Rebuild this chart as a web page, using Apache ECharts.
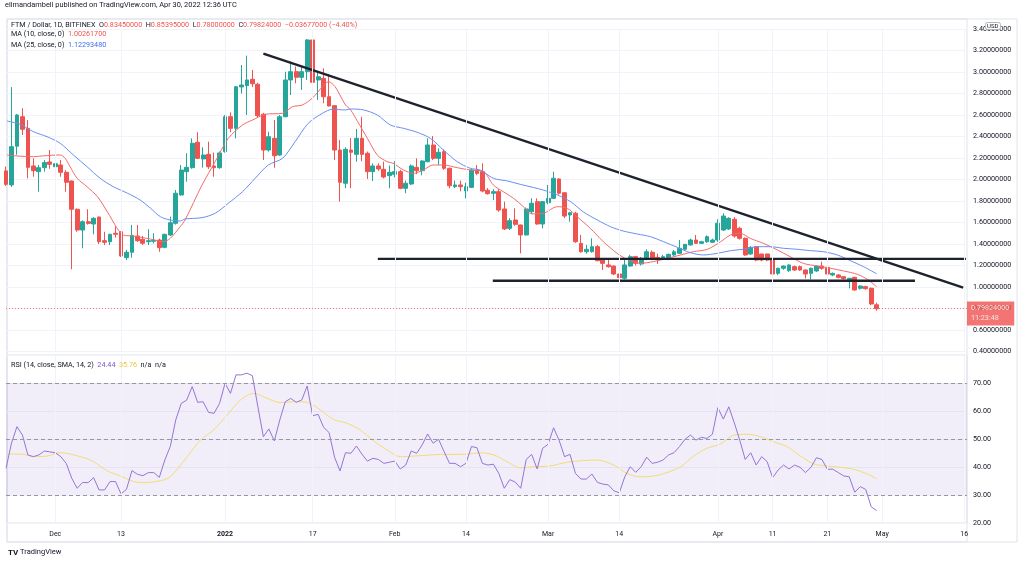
<!DOCTYPE html>
<html><head><meta charset="utf-8">
<script src="https://cdn.jsdelivr.net/npm/echarts@6/dist/echarts.min.js"></script>
<style>html,body{margin:0;padding:0;background:#fff}#c{width:1024px;height:565px}</style>
</head><body><div id="c"></div>
<script>
// day index: 0 = 2021-12-01
const firstDay = -9; // 2021-11-22
// daily candles [open, high, low, close]
const ohlc = [
[2.08,2.12,1.94,1.955],[1.95,2.86,1.93,2.305],[2.31,2.61,2.23,2.60],[2.584,2.662,2.414,2.467],[2.476,2.553,2.011,2.113],
[2.126,2.197,2.026,2.082],[2.073,2.135,1.887,2.110],[2.110,2.181,2.073,2.157],[2.163,2.274,2.10,2.141],[2.119,2.274,2.088,2.147],
[2.135,2.181,2.026,2.067],[2.067,2.088,1.887,1.974],[1.986,1.99,1.165,1.723],[1.723,1.73,1.514,1.530],[1.530,1.62,1.360,1.607],
[1.607,1.723,1.58,1.592],[1.586,1.65,1.49,1.639],[1.651,1.655,1.40,1.421],[1.431,1.514,1.39,1.416],[1.421,1.495,1.39,1.490],
[1.50,1.561,1.46,1.49],[1.514,1.52,1.28,1.288],[1.273,1.345,1.251,1.323],[1.323,1.577,1.273,1.481],[1.474,1.577,1.42,1.431],
[1.444,1.475,1.39,1.407],[1.421,1.537,1.39,1.431],[1.425,1.50,1.405,1.435],[1.437,1.45,1.328,1.366],[1.369,1.495,1.36,1.490],
[1.484,1.654,1.475,1.598],[1.593,1.902,1.58,1.872],[1.856,2.135,1.85,2.088],[2.073,2.244,1.98,2.113],[2.110,2.383,2.10,2.337],
[2.346,2.439,2.19,2.197],[2.191,2.30,2.11,2.228],[2.234,2.352,2.098,2.119],[2.126,2.25,2.026,2.110],[2.110,2.26,2.10,2.247],
[2.259,2.60,2.25,2.584],[2.584,2.625,2.44,2.476],[2.476,2.87,2.383,2.863],[2.861,3.065,2.80,2.879],[2.873,3.152,2.60,2.926],
[2.932,3.019,2.86,2.891],[2.886,2.90,2.58,2.594],[2.607,2.62,2.181,2.274],[2.274,2.445,2.26,2.398],[2.383,2.553,2.11,2.221],
[2.228,2.60,2.22,2.584],[2.584,3.003,2.58,2.926],[2.926,3.096,2.786,3.003],[3.003,3.05,2.895,2.951],[2.951,3.05,2.833,3.003],
[3.003,3.307,2.926,3.298],[3.298,3.375,2.879,2.904],[2.926,3.003,2.74,2.956],[2.941,3.034,2.709,2.770],[2.770,2.98,2.68,2.684],
[2.687,2.69,2.181,2.274],[2.274,2.367,1.794,1.974],[1.965,2.30,1.918,2.281],[2.274,2.386,1.92,2.253],[2.234,2.47,2.166,2.383],
[2.383,2.584,2.17,2.234],[2.244,2.26,2.005,2.073],[2.073,2.15,1.986,2.126],[2.126,2.15,2.08,2.098],[2.095,2.166,2.01,2.023],
[2.036,2.13,1.918,2.067],[2.048,2.17,2.02,2.073],[2.073,2.09,1.91,1.918],[1.918,1.99,1.872,1.965],[1.958,2.14,1.95,2.126],
[2.113,2.197,2.05,2.082],[2.082,2.18,2.04,2.172],[2.166,2.383,2.16,2.321],[2.321,2.405,2.18,2.197],[2.197,2.29,2.135,2.253],
[2.259,2.28,2.09,2.104],[2.104,2.11,1.918,1.942],[1.933,1.99,1.92,1.949],[1.949,1.99,1.89,1.933],[1.893,1.97,1.825,1.933],
[1.927,2.10,1.92,2.088],[2.088,2.135,2.04,2.057],[2.073,2.151,1.88,1.893],[1.90,1.92,1.86,1.868],[1.872,1.91,1.809,1.887],
[1.887,1.91,1.70,1.716],[1.726,1.794,1.53,1.540],[1.546,1.64,1.53,1.617],[1.623,1.732,1.57,1.583],[1.577,1.58,1.313,1.484],
[1.484,1.74,1.48,1.726],[1.70,1.825,1.68,1.779],[1.794,1.825,1.58,1.586],[1.586,1.80,1.546,1.794],[1.784,1.949,1.77,1.825],
[1.825,2.073,1.82,2.011],[2.005,2.01,1.86,1.872],[1.877,1.88,1.64,1.660],[1.670,1.70,1.607,1.691],[1.686,1.70,1.41,1.421],
[1.406,1.484,1.32,1.328],[1.328,1.39,1.31,1.351],[1.328,1.453,1.32,1.375],[1.375,1.39,1.24,1.245],[1.251,1.27,1.158,1.220],
[1.205,1.27,1.18,1.189],[1.195,1.20,1.11,1.121],[1.121,1.175,1.059,1.087],[1.081,1.26,1.07,1.205],[1.195,1.30,1.19,1.282],
[1.282,1.29,1.20,1.220],[1.214,1.28,1.20,1.267],[1.258,1.351,1.25,1.328],[1.323,1.34,1.25,1.258],[1.276,1.31,1.214,1.26],
[1.26,1.30,1.25,1.282],[1.267,1.31,1.25,1.304],[1.298,1.345,1.29,1.328],[1.313,1.437,1.31,1.36],[1.351,1.40,1.34,1.397],
[1.391,1.45,1.385,1.437],[1.437,1.484,1.40,1.406],[1.406,1.43,1.40,1.421],[1.421,1.48,1.41,1.468],[1.416,1.45,1.41,1.437],
[1.437,1.63,1.42,1.593],[1.53,1.686,1.52,1.66],[1.54,1.65,1.53,1.639],[1.63,1.65,1.46,1.474],[1.546,1.56,1.44,1.453],
[1.453,1.46,1.29,1.298],[1.307,1.38,1.30,1.369],[1.375,1.38,1.24,1.251],[1.307,1.31,1.24,1.251],[1.307,1.31,1.24,1.251],
[1.258,1.26,1.11,1.121],[1.127,1.18,1.11,1.174],[1.174,1.20,1.16,1.195],[1.152,1.21,1.14,1.205],[1.189,1.20,1.15,1.158],
[1.189,1.20,1.15,1.158],[1.158,1.165,1.08,1.121],[1.127,1.18,1.071,1.174],[1.149,1.20,1.14,1.195],[1.195,1.236,1.16,1.174],
[1.183,1.22,1.11,1.121],[1.112,1.135,1.10,1.127],[1.112,1.12,1.08,1.09],[1.096,1.10,1.07,1.077],[1.059,1.085,0.988,1.081],
[1.09,1.095,0.965,0.972],[0.988,1.015,0.975,1.009],[1.003,1.01,0.975,0.984],[0.988,0.995,0.83,0.842],[0.8345,0.85395,0.78,0.79824]
];
// MA lines: [day, value]
const ma10 = [[-8.8,2.228],[-7,2.219],[-4,2.212],[-2.2,2.22],[0.9,2.228],[1.8,2.197],[2.7,2.119],[4,2.011],[5.8,1.933],[7.7,1.84],[9.5,1.70],[11.3,1.546],[12.4,1.484],[14.2,1.474],[17.4,1.446],[19.7,1.421],[21,1.453],[22.8,1.561],[23.7,1.623],[26.8,1.949],[29.2,2.166],[31.6,2.383],[34.2,2.507],[36,2.553],[38.4,2.607],[41.5,2.616],[43.3,2.677],[45.1,2.693],[46.9,2.755],[48.8,2.863],[49.9,2.91],[51.1,2.863],[53,2.693],[53.9,2.65],[55.2,2.54],[57,2.383],[58.8,2.228],[60.6,2.166],[61.7,2.151],[63.6,2.088],[65.4,2.058],[67.2,2.088],[69,2.135],[70.9,2.135],[73.4,2.11],[75.8,2.088],[78.2,2.073],[80,1.949],[81.8,1.887],[83.7,1.825],[85.5,1.747],[87,1.68],[89.1,1.686],[91.7,1.747],[93.5,1.732],[95.3,1.654],[97.7,1.546],[100.1,1.421],[102.6,1.313],[104.4,1.258],[106.8,1.22],[109.2,1.236],[111.8,1.267],[114.2,1.298],[116.5,1.328],[119.1,1.351],[121.5,1.421],[123.3,1.484],[125.1,1.5],[126.9,1.453],[129.3,1.406],[131.9,1.344],[134.2,1.282],[136.6,1.22],[139.2,1.195],[141.6,1.174],[144,1.149],[146.5,1.118],[148.3,1.071],[150,1.0026]];
const ma25 = [[-8.8,2.544],[-6.4,2.513],[-4,2.445],[-1.5,2.398],[0.9,2.337],[3.3,2.228],[5.8,2.119],[8.2,2.011],[10.6,1.933],[13.2,1.872],[15.5,1.809],[17.4,1.732],[19.2,1.654],[21,1.623],[22.8,1.614],[23.7,1.633],[26.8,1.645],[29.2,1.686],[31.6,1.779],[34.2,1.887],[36.5,2.011],[38.9,2.135],[41.5,2.197],[43.8,2.352],[46.2,2.523],[48.8,2.616],[50.6,2.653],[53,2.647],[53.9,2.656],[56.3,2.647],[58.8,2.60],[61.2,2.507],[63.6,2.476],[66.1,2.439],[68.5,2.383],[70.9,2.274],[73.4,2.166],[75.8,2.104],[77.6,2.088],[80,2.011],[82.6,1.986],[84.9,1.955],[87.3,1.926],[89.1,1.902],[91.7,1.856],[94.1,1.794],[96.4,1.70],[99,1.623],[101.4,1.561],[103.7,1.521],[106.3,1.493],[108.7,1.468],[111.1,1.421],[113.6,1.369],[116,1.319],[118.4,1.298],[120.9,1.313],[123.3,1.338],[125.7,1.351],[128.2,1.375],[130.6,1.375],[133,1.36],[135.5,1.351],[137.9,1.338],[140.3,1.328],[142.8,1.298],[145.2,1.245],[147.6,1.189],[150,1.1229]];
// daily RSI(14) from 2021-11-22
const rsi = [39.5,48.5,54.4,51.4,44.3,43.7,44.3,45.7,45.4,45.1,43.7,41.3,36,32.4,34.5,34.4,36.2,31.8,31.8,34.8,
34.8,30.4,32,38.7,37.4,36.9,38,38,36.3,42.5,47.3,56.8,62.7,63.9,68.7,63.1,63.3,59.5,59.2,62.7,
69.9,66.3,72.9,72.9,73.5,72.6,61.5,50.8,53.6,49.3,56.8,63.3,64.5,63.1,63.9,68.9,58.3,58.8,54.2,52.3,
43.5,38.6,45.1,44.9,47.5,44.6,42.1,43.1,42.7,41.3,41.7,42.1,39.3,40.7,45.7,44.9,47.9,51.8,48.5,49.9,
45.5,41.3,41.3,40.1,41.3,47.3,46.9,41.3,40.7,41,37.7,32.4,35.5,34.6,32.4,42.7,44.5,39.3,46.7,48.1,
54,49.6,43.7,44.5,37.7,35.7,35.7,37.5,34.5,33.9,33.6,31.5,30.8,36.5,40.1,38.1,40.1,43.5,41.3,41.7,
42.5,44.3,45.1,47.3,49.9,51.4,49.6,50.6,50.2,51.7,61.2,57.1,61.5,55.8,49.6,42.7,45.1,40.7,43.7,41.9,
36.2,38.9,40.7,39.3,40.7,39.9,38,39.9,43.3,42.7,39.2,39.2,38,36.8,36.5,31,33,32,25.8,24.44];
const rsiMa = [[-8.8,44.6],[-6.1,44.6],[-4,43.7],[-1.5,43.9],[0.9,45.1],[4.6,43.7],[7,41.9],[9.4,38.7],[11.9,36.8],[14.3,34.8],[16.1,34.4],[19.2,35.1],[21,36.5],[24.1,43.7],[26.5,49.6],[28.9,53.2],[31.4,58.6],[33.8,63.9],[36.2,66.3],[38.7,64.5],[41.1,63],[43.5,63.3],[46,63.1],[48.4,60.4],[50.8,57],[53.3,55.6],[55.7,53.2],[58.1,49.4],[60.6,46.1],[63,43.7],[65.4,43.9],[67.9,44.2],[70.3,44.5],[72.8,44.5],[75.2,44.6],[77.6,45.1],[80.1,44.3],[82.5,41.9],[84.9,39.7],[87.4,40.1],[90.4,40.4],[93.5,41.7],[96.5,42.3],[98.9,42.5],[102,40.7],[104.4,37.7],[106.8,36.5],[109.3,36.8],[111.7,38],[114.2,40.1],[116.6,43.9],[119,46.7],[121.5,48.2],[123.9,51.4],[126.3,51.7],[128.8,50.8],[131.2,49],[133.6,47.3],[136.1,43.9],[138.5,41.1],[140.9,40.4],[143.4,39.9],[145.8,39.2],[148.3,37.5],[150,35.76]];
// drawn trendlines [day, price]
const downTrend = [[38,3.170],[165.8,0.9935]];
const upperLevel = [[58.9,1.262],[166.3,1.262]];
const lowerLevel = [[79.9,1.058],[157.0,1.058]];
const lastPrice = 0.79824;
const tickDays = [0,12,31,47,62,75,90,103,121,131,141,151,166];
const tickLabels = ['Dec','13','2022','17','Feb','14','Mar','14','Apr','11','21','May','16'];

const FONT = 'Roboto, "Liberation Sans", sans-serif';
const GREEN = '#26a69a', RED = '#ef5350';
const candles = ohlc.map((r, i) => [firstDay + i, r[0], r[3], r[2], r[1]]);
const rsiData = rsi.map((v, i) => [firstDay + i, v]);
const xMin = -9, xMax = 166.5;
const gridLineData = tickDays.map(d => ({xAxis: d}));

const chart = echarts.init(document.getElementById('c'), null, {renderer: 'canvas'});
const xBase = {type: 'value', min: xMin, max: xMax, interval: 1};
chart.setOption({
  animation: false,
  backgroundColor: '#ffffff',
  textStyle: {fontFamily: FONT},
  title: [
    {text: 'elimandambell published on TradingView.com, Apr 30, 2022 12:36 UTC', left: 5, top: 2, padding: 0,
     textStyle: {fontSize: 7.4, fontWeight: 'normal', color: '#131722', fontFamily: FONT}},
    {text: '{n|FTM / Dollar, 1D, BITFINEX}  {k|O}{v|0.83450000}  {k|H}{v|0.85395000}  {k|L}{v|0.78000000}  {k|C}{v|0.79824000}  {v|\u22120.03677000 (\u22124.40%)}',
     left: 11, top: 21.5, padding: 0,
     textStyle: {fontSize: 7.2, fontWeight: 'normal', fontFamily: FONT,
       rich: {n: {color: '#131722', fontSize: 7.2, fontFamily: FONT}, k: {color: '#131722', fontSize: 7.2, fontFamily: FONT}, v: {color: RED, fontSize: 7.2, fontFamily: FONT}}}},
    {text: '{n|MA (10, close, 0)}  {v|1.00261700}', left: 11, top: 31, padding: 0,
     textStyle: {fontSize: 7.2, fontWeight: 'normal', rich: {n: {color: '#131722', fontSize: 7.2, fontFamily: FONT}, v: {color: RED, fontSize: 7.2, fontFamily: FONT}}}},
    {text: '{n|MA (25, close, 0)}  {v|1.12293480}', left: 11, top: 41.5, padding: 0,
     textStyle: {fontSize: 7.2, fontWeight: 'normal', rich: {n: {color: '#131722', fontSize: 7.2, fontFamily: FONT}, v: {color: '#3f6ff0', fontSize: 7.2, fontFamily: FONT}}}},
    {text: '{n|RSI (14, close, SMA, 14, 2)}  {p|24.44}  {y|35.76}  {g|n/a  n/a}', left: 11, top: 361.5, padding: 0,
     textStyle: {fontSize: 7.2, fontWeight: 'normal', rich: {n: {color: '#131722', fontSize: 7.2, fontFamily: FONT}, p: {color: '#7e57c2', fontSize: 7.2, fontFamily: FONT}, y: {color: '#e8c848', fontSize: 7.2, fontFamily: FONT}, g: {color: '#131722', fontSize: 7.2, fontFamily: FONT}}}},
    {text: '{b|TV} TradingView', left: 8, top: 548.5, padding: 0,
     textStyle: {fontSize: 7.5, fontWeight: 'normal', color: '#131722', rich: {b: {fontWeight: 'bold', fontSize: 8, color: '#131722', fontFamily: FONT}}}},
    {text: 'USD', left: 985, top: 22, padding: [1, 2, 1, 2],
     backgroundColor: '#ffffff', borderColor: '#b2b5be', borderWidth: 1, borderRadius: 2,
     textStyle: {fontSize: 6, fontWeight: 'normal', color: '#131722'}}
  ],
  grid: [
    {left: 6, right: 57, top: 29, bottom: 213.5},
    {left: 6, right: 57, top: 355, bottom: 42},
    {left: 7, right: 7, top: 19, bottom: 23, show: true, borderColor: '#e0e3eb', borderWidth: 1, backgroundColor: 'transparent'},
    {left: 7, right: 57, top: 19, bottom: 23, show: true, borderColor: '#e0e3eb', borderWidth: 1, backgroundColor: 'transparent'},
    {left: 7, right: 57, top: 355, bottom: 42, show: true, borderColor: '#e0e3eb', borderWidth: 1, backgroundColor: 'transparent'}
  ],
  xAxis: [
    Object.assign({gridIndex: 0, show: false}, xBase),
    Object.assign({gridIndex: 1, axisLine: {show: false}, axisTick: {show: false}, splitLine: {show: false},
      axisLabel: {margin: 8, fontSize: 7, color: '#131722', fontFamily: FONT, showMinLabel: true, showMaxLabel: true,
        formatter: v => { const i = tickDays.indexOf(Math.round(v)); if (i < 0 || Math.abs(v - Math.round(v)) > 1e-6) return ''; return tickLabels[i] === '2022' ? '{b|2022}' : tickLabels[i]; },
        rich: {b: {fontWeight: 'bold', fontSize: 7, color: '#131722', fontFamily: FONT}}}}, xBase),
    {gridIndex: 2, type: 'value', show: false},
    {gridIndex: 3, type: 'value', show: false},
    {gridIndex: 4, type: 'value', show: false}
  ],
  yAxis: [
    {gridIndex: 0, type: 'value', position: 'right', min: 0.4, max: 3.4, interval: 0.2,
     axisLine: {show: false}, axisTick: {show: false},
     splitLine: {lineStyle: {color: '#f0f3fa', width: 1}},
     axisLabel: {margin: 6, fontSize: 7.2, color: '#131722', fontFamily: FONT, formatter: v => v.toFixed(8)}},
    {gridIndex: 1, type: 'value', position: 'right', min: 20, max: 80, interval: 10,
     axisLine: {show: false}, axisTick: {show: false},
     splitLine: {lineStyle: {color: '#f0f3fa', width: 1}},
     axisLabel: {margin: 6, fontSize: 7.2, color: '#131722', fontFamily: FONT, formatter: v => v >= 80 ? '' : v.toFixed(2)}},
    {gridIndex: 2, type: 'value', show: false},
    {gridIndex: 3, type: 'value', show: false},
    {gridIndex: 4, type: 'value', show: false}
  ],
  series: [
    {type: 'line', xAxisIndex: 0, yAxisIndex: 0, data: [], z: 1, silent: true,
     markLine: {silent: true, symbol: 'none', label: {show: false}, lineStyle: {color: '#f0f3fa', width: 1, type: 'solid'}, data: gridLineData}},
    {type: 'line', xAxisIndex: 1, yAxisIndex: 1, data: [], z: 1, silent: true,
     markLine: {silent: true, symbol: 'none', label: {show: false}, lineStyle: {color: '#f0f3fa', width: 1, type: 'solid'}, data: gridLineData}},
    {name: 'FTM', type: 'candlestick', xAxisIndex: 0, yAxisIndex: 0, data: candles, encode: {x: 0, y: [1, 2, 3, 4]},
     barWidth: 4.3, clip: true,
     itemStyle: {color: GREEN, color0: RED, borderColor: GREEN, borderColor0: RED, borderWidth: 1},
     markLine: {silent: true, symbol: 'none',
       lineStyle: {color: RED, type: [1, 2], width: 1, opacity: 0.8},
       label: {show: true, position: 'end', distance: 0, offset: [0, 5], formatter: '{p|0.79824000}\n{t|11:23:48}',
         backgroundColor: RED, padding: [2, 5, 2, 4], color: '#fff',
         rich: {p: {color: '#fff', fontSize: 7.2, lineHeight: 10, fontFamily: FONT}, t: {color: '#fff', fontSize: 7.2, lineHeight: 10, fontFamily: FONT}}},
       data: [{yAxis: lastPrice}]}},
    {name: 'MA10', type: 'line', xAxisIndex: 0, yAxisIndex: 0, data: ma10, showSymbol: false, smooth: 0.3,
     lineStyle: {color: '#f26b6b', width: 1}, z: 3},
    {name: 'MA25', type: 'line', xAxisIndex: 0, yAxisIndex: 0, data: ma25, showSymbol: false, smooth: 0.3,
     lineStyle: {color: '#6a8ff2', width: 1}, z: 3},
    {type: 'line', xAxisIndex: 0, yAxisIndex: 0, data: downTrend, showSymbol: false, lineStyle: {color: '#1e222d', width: 2.4}, z: 4},
    {type: 'line', xAxisIndex: 0, yAxisIndex: 0, data: upperLevel, showSymbol: false, lineStyle: {color: '#1e222d', width: 2.4}, z: 4},
    {type: 'line', xAxisIndex: 0, yAxisIndex: 0, data: lowerLevel, showSymbol: false, lineStyle: {color: '#1e222d', width: 2.4}, z: 4},
    {name: 'RSI', type: 'line', xAxisIndex: 1, yAxisIndex: 1, data: rsiData, showSymbol: false,
     lineStyle: {color: '#9575d6', width: 1}, z: 3,
     markArea: {silent: true, itemStyle: {color: 'rgba(126,87,194,0.1)'}, data: [[{yAxis: 30}, {yAxis: 70}]]},
     markLine: {silent: true, symbol: 'none', label: {show: false}, lineStyle: {color: '#9598a1', type: [4, 3], width: 1},
       data: [{yAxis: 30}, {yAxis: 50}, {yAxis: 70}]}},
    {name: 'RSI MA', type: 'line', xAxisIndex: 1, yAxisIndex: 1, data: rsiMa, showSymbol: false, smooth: 0.3,
     lineStyle: {color: '#f2dc74', width: 1}, z: 2}
  ]
});
</script></body></html>
